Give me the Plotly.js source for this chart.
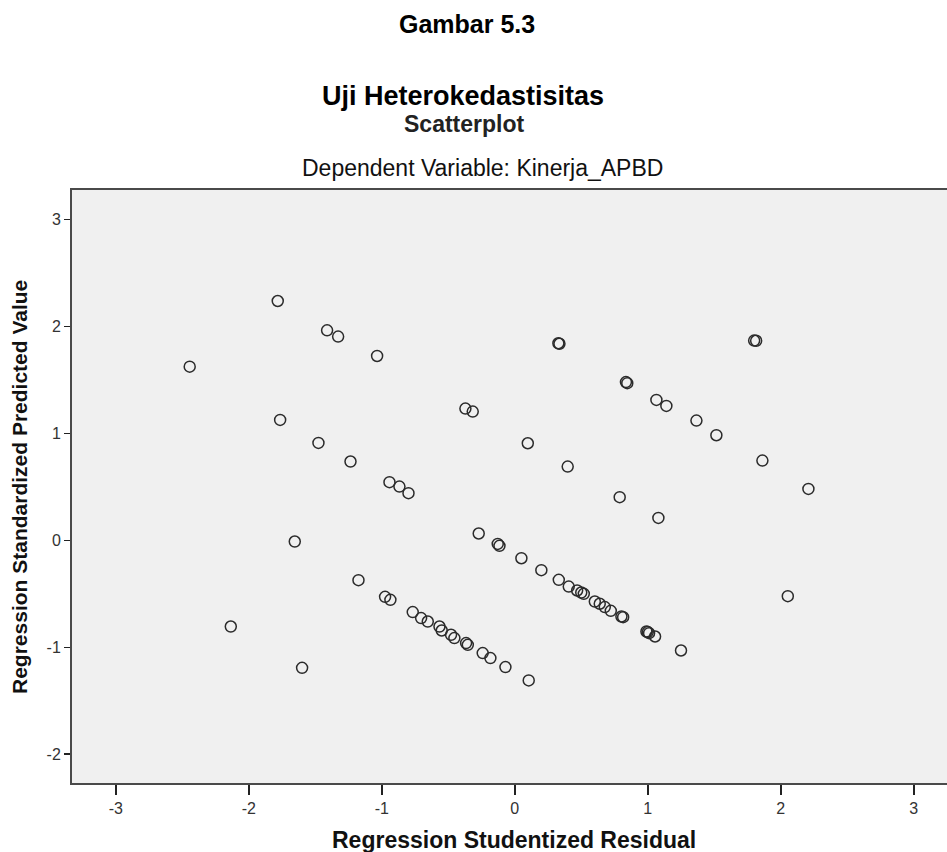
<!DOCTYPE html>
<html>
<head>
<meta charset="utf-8">
<script src="https://cdn.plot.ly/plotly-3.0.1.min.js"></script>
<style>html,body{margin:0;padding:0;background:#fff;} #chart{width:947px;height:852px;}</style>
</head>
<body>
<div id="chart"></div>
<script>
// Regression Studentized Residual (x)
const residual = [
  -1.782, -1.411, -1.328, -1.035, -2.444, -0.371, -0.316, -1.764, -1.476, -1.235,
  -0.942, -0.867, -0.799, -0.271, -0.128, -0.115, 0.050, -1.654, -1.175, -0.975,
  -0.935, -0.767, -0.704, -0.654, -0.566, -0.549, -0.479, -0.454, -0.366, -0.353,
  -0.241, -0.183, -0.070, -2.135, -1.599, 0.398, 0.789, 1.080, 2.208, 0.200,
  0.331, 0.406, 0.469, 0.500, 0.519, 0.602, 0.639, 0.677, 0.722, 0.802,
  0.815, 0.990, 1.000, 1.010, 1.055, 1.250, 2.053, 0.105, 0.328, 0.336,
  1.800, 1.815, 0.836, 0.846, 1.065, 1.140, 1.366, 1.516, 1.862, 0.098
];
// Regression Standardized Predicted Value (y)
const predicted = [
  2.238, 1.964, 1.905, 1.724, 1.624, 1.232, 1.204, 1.126, 0.911, 0.737,
  0.544, 0.503, 0.441, 0.064, -0.033, -0.051, -0.167, -0.011, -0.372, -0.528,
  -0.556, -0.671, -0.727, -0.759, -0.806, -0.843, -0.883, -0.914, -0.961, -0.977,
  -1.054, -1.101, -1.185, -0.806, -1.192, 0.690, 0.404, 0.210, 0.481, -0.279,
  -0.369, -0.432, -0.469, -0.488, -0.500, -0.572, -0.593, -0.624, -0.659, -0.712,
  -0.718, -0.852, -0.858, -0.868, -0.899, -1.030, -0.522, -1.310, 1.843, 1.838,
  1.868, 1.866, 1.480, 1.470, 1.313, 1.257, 1.120, 0.983, 0.746, 0.908
];
const xTicks = [-3, -2, -1, 0, 1, 2, 3];
const yTicks = [-2, -1, 0, 1, 2, 3];

const FONT = 'Arial, "Liberation Sans", sans-serif';
const W = 947, H = 852, ML = 72, MR = 0, MT = 190, MB = 69;
const px = x => (x - ML) / (W - ML - MR);
const py = y => (H - MB - y) / (H - MT - MB);

const trace = {
  type: 'scatter', mode: 'markers',
  x: residual, y: predicted,
  marker: { symbol: 'circle-open', size: 11, color: '#2b2b2b', line: { width: 1.5 } },
  hoverinfo: 'x+y'
};

const ann = (text, x, y, size, bold, color, extra) => Object.assign({
  text: bold ? '<b>' + text + '</b>' : text,
  xref: 'paper', yref: 'paper', x: px(x), y: py(y),
  xanchor: 'center', yanchor: 'middle', showarrow: false,
  font: { family: FONT, size: size, color: color }
}, extra || {});

const layout = {
  width: W, height: H,
  margin: { l: ML, r: MR, t: MT, b: MB, pad: 0 },
  paper_bgcolor: '#ffffff', plot_bgcolor: '#f0f0f0',
  showlegend: false,
  font: { family: FONT },
  xaxis: {
    range: [-3.329, 3.25], tickvals: xTicks, ticktext: xTicks.map(String),
    ticks: 'outside', ticklen: 10, tickwidth: 1.5, tickcolor: '#222',
    showline: true, linecolor: '#4a4a4a', linewidth: 2, mirror: true,
    showgrid: false, zeroline: false,
    tickfont: { family: FONT, size: 16, color: '#333' }
  },
  yaxis: {
    range: [-2.269, 3.276], tickvals: yTicks, ticktext: yTicks.map(String),
    ticks: 'outside', ticklen: 6, tickwidth: 1.5, tickcolor: '#222',
    showline: true, linecolor: '#4a4a4a', linewidth: 2,
    showgrid: false, zeroline: false,
    tickfont: { family: FONT, size: 16, color: '#333' }
  },
  annotations: [
    ann('Gambar 5.3', 467, 24, 25, true, '#000'),
    ann('Uji Heterokedastisitas', 463, 96, 27, true, '#000'),
    ann('Scatterplot', 464, 124, 23, true, '#222'),
    ann('Dependent Variable: Kinerja_APBD', 482, 168, 23, false, '#111'),
    ann('Regression Studentized Residual', 514, 840, 23, true, '#111'),
    ann('Regression Standardized Predicted Value', 19, 487, 21, true, '#111', { textangle: -90 })
  ]
};

Plotly.newPlot('chart', [trace], layout, { displayModeBar: false, staticPlot: true });
</script>
</body>
</html>
